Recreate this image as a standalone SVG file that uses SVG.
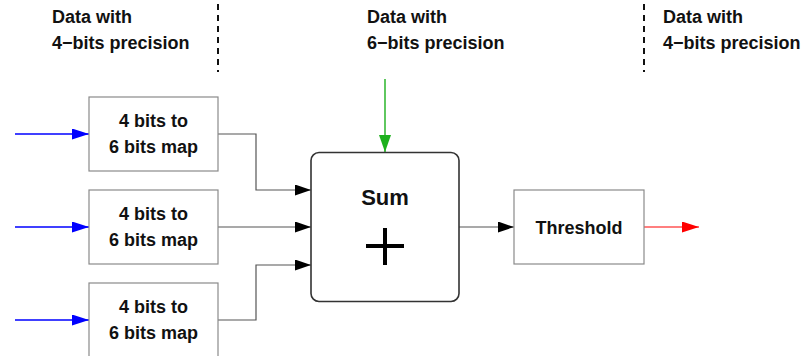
<svg xmlns="http://www.w3.org/2000/svg" width="806" height="356" viewBox="0 0 806 356">
<style>
  text { font-family: "Liberation Sans", Arial, sans-serif; font-weight: bold; fill: #111; }
  .lbl { font-size: 18px; }
  .box { fill: #fff; stroke: #8a8a8a; stroke-width: 1.2; }
  .sum { fill: #fff; stroke: #333; stroke-width: 1.6; }
  .wire { fill: none; stroke: #555; stroke-width: 1.2; }
  .sep { stroke: #111; stroke-width: 2; stroke-dasharray: 6 5; }
</style>
<defs>
  <marker id="ah-k" markerUnits="userSpaceOnUse" markerWidth="16" markerHeight="11" refX="16" refY="5.5" orient="auto"><path d="M0,0 L16,5.5 L0,11 z" fill="#000"/></marker>
  <marker id="ah-b" markerUnits="userSpaceOnUse" markerWidth="17" markerHeight="11" refX="17" refY="5.5" orient="auto"><path d="M0,0 L17,5.5 L0,11 z" fill="#0000ff"/></marker>
  <marker id="ah-g" markerUnits="userSpaceOnUse" markerWidth="17" markerHeight="12" refX="17" refY="6" orient="auto"><path d="M0,0 L17,6 L0,12 z" fill="#1cb01c"/></marker>
  <marker id="ah-r" markerUnits="userSpaceOnUse" markerWidth="17" markerHeight="11" refX="17" refY="5.5" orient="auto"><path d="M0,0 L17,5.5 L0,11 z" fill="#ff0000"/></marker>
</defs>
<rect width="806" height="356" fill="#fff"/>

<g id="separators">
  <line class="sep" x1="218" y1="4" x2="218" y2="72"/>
  <line class="sep" x1="644" y1="4" x2="644" y2="72"/>
</g>

<g id="labels">
  <text class="lbl" x="52" y="23">Data with</text>
  <text class="lbl" x="52" y="49">4−bits precision</text>
  <text class="lbl" x="367" y="23">Data with</text>
  <text class="lbl" x="367" y="49">6−bits precision</text>
  <text class="lbl" x="663" y="23">Data with</text>
  <text class="lbl" x="663" y="49">4−bits precision</text>
</g>

<g id="connectors">
  <line x1="15" y1="134" x2="89" y2="134" stroke="#0000ff" stroke-width="1.4" marker-end="url(#ah-b)"/>
  <line x1="15" y1="227" x2="89" y2="227" stroke="#0000ff" stroke-width="1.4" marker-end="url(#ah-b)"/>
  <line x1="15" y1="320" x2="89" y2="320" stroke="#0000ff" stroke-width="1.4" marker-end="url(#ah-b)"/>
  <polyline class="wire" points="218,134 256,134 256,190 311,190" marker-end="url(#ah-k)"/>
  <polyline class="wire" points="218,227 311,227" marker-end="url(#ah-k)"/>
  <polyline class="wire" points="218,320 256,320 256,265 311,265" marker-end="url(#ah-k)"/>
  <line x1="385" y1="79" x2="385" y2="152" stroke="#1cb01c" stroke-width="1.4" marker-end="url(#ah-g)"/>
  <line class="wire" x1="459" y1="227" x2="514" y2="227" marker-end="url(#ah-k)"/>
  <line x1="644" y1="227" x2="699" y2="227" stroke="#ff0000" stroke-width="1.2" marker-end="url(#ah-r)"/>
</g>

<g id="map1">
  <rect class="box" x="89" y="97" width="129" height="74"/>
  <text class="lbl" x="153.5" y="127" text-anchor="middle">4 bits to</text>
  <text class="lbl" x="153.5" y="153" text-anchor="middle">6 bits map</text>
</g>
<g id="map2">
  <rect class="box" x="89" y="190" width="129" height="74"/>
  <text class="lbl" x="153.5" y="220" text-anchor="middle">4 bits to</text>
  <text class="lbl" x="153.5" y="246" text-anchor="middle">6 bits map</text>
</g>
<g id="map3">
  <rect class="box" x="89" y="283" width="129" height="80"/>
  <text class="lbl" x="153.5" y="313" text-anchor="middle">4 bits to</text>
  <text class="lbl" x="153.5" y="339" text-anchor="middle">6 bits map</text>
</g>

<g id="sum">
  <rect class="sum" x="311" y="152.5" width="148" height="149" rx="8" ry="8"/>
  <text x="385" y="205" text-anchor="middle" font-size="22">Sum</text>
  <path d="M366,246 H404 M385,228 V265" stroke="#000" stroke-width="4" fill="none"/>
</g>

<g id="threshold">
  <rect class="box" x="514" y="190" width="130" height="74"/>
  <text class="lbl" x="579" y="234" text-anchor="middle">Threshold</text>
</g>
</svg>
